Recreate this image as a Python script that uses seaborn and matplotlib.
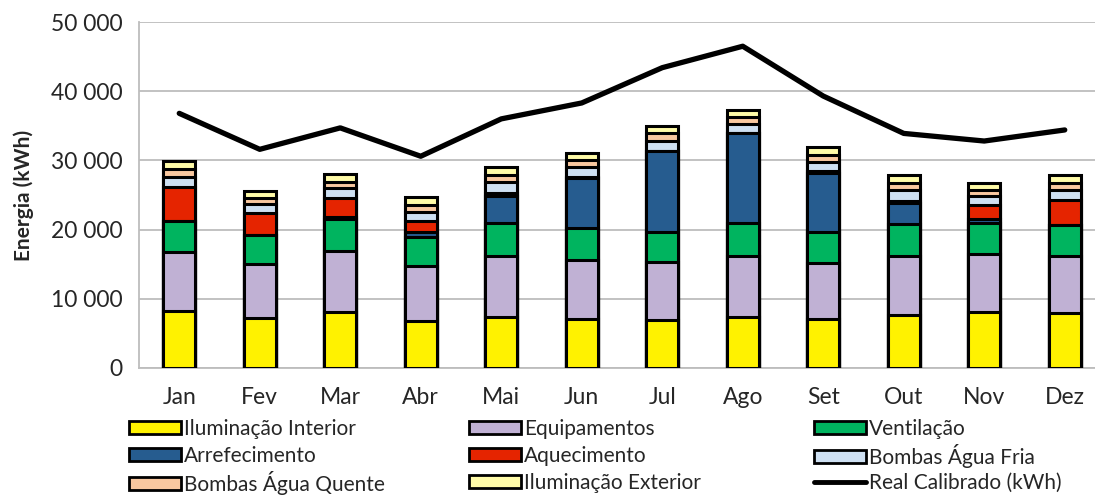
import numpy as np
import pandas as pd
import matplotlib.pyplot as plt
import seaborn as sns
from matplotlib.patches import Patch
from matplotlib.lines import Line2D
from matplotlib.ticker import FuncFormatter, MultipleLocator

# Monthly energy use by end use (kWh)
months = ["Jan", "Fev", "Mar", "Abr", "Mai", "Jun", "Jul", "Ago", "Set", "Out", "Nov", "Dez"]
ilum_interior = [8200, 7250, 8100, 6800, 7400, 7150, 7000, 7400, 7050, 7700, 8100, 8000]
equipamentos = [8500, 7850, 8750, 7950, 8800, 8500, 8250, 8800, 8150, 8550, 8400, 8250]
ventilacao = [4600, 4100, 4700, 4200, 4750, 4600, 4350, 4700, 4400, 4500, 4450, 4400]
arrefecimento = [0, 0, 200, 700, 3900, 7200, 11750, 13000, 8650, 3050, 650, 0]
aquecimento = [4800, 3250, 2750, 1600, 500, 200, 0, 0, 200, 300, 1900, 3650]
bombas_fria = [1500, 1200, 1450, 1350, 1600, 1400, 1500, 1350, 1350, 1600, 1350, 1450]
bombas_quente = [1100, 900, 950, 1000, 1000, 950, 1050, 950, 1000, 1000, 900, 1000]
ilum_exterior = [1200, 1000, 1150, 1100, 1100, 1100, 1100, 1150, 1150, 1150, 1050, 1200]
real_calibrado = [36800, 31600, 34700, 30600, 36000, 38300, 43400, 46500, 39300, 33900, 32800, 34400]

series_names = ["Iluminação Interior", "Equipamentos", "Ventilação", "Arrefecimento",
                "Aquecimento", "Bombas Água Fria", "Bombas Água Quente", "Iluminação Exterior"]
series_values = [ilum_interior, equipamentos, ventilacao, arrefecimento,
                 aquecimento, bombas_fria, bombas_quente, ilum_exterior]
colors = ["#FFF200", "#C0B1D4", "#00B45F", "#265C8F", "#E52400", "#CEE0F2", "#F9C8A0", "#FFFBA8"]
line_name = "Real Calibrado (kWh)"

sns.set_style("white")
plt.rcParams["font.family"] = ["Lato", "DejaVu Sans"]

fig = plt.figure(figsize=(10.95, 4.95), dpi=100)
ax = fig.add_axes([139 / 1095, 127 / 495, 966 / 1095, 346 / 495])

# stacked bars: draw cumulative totals from the top down
df = pd.DataFrame(dict(zip(series_names, series_values)), index=months)
cum = df.cumsum(axis=1)
for name, color in reversed(list(zip(series_names, colors))):
    sns.barplot(x=months, y=cum[name].values, order=months, color=color, saturation=1,
                width=0.4, edgecolor="black", linewidth=2.2, ax=ax, zorder=3)

sns.lineplot(x=np.arange(len(months)), y=real_calibrado, color="black",
             linewidth=3.8, ax=ax, zorder=4)

ax.set_xlim(-0.5, len(months) - 0.5)
ax.set_ylim(0, 50000)
ax.yaxis.set_major_locator(MultipleLocator(10000))
ax.yaxis.set_major_formatter(FuncFormatter(lambda v, p: f"{int(v):,}".replace(",", " ")))
ax.set_xticks(range(len(months)))
ax.set_xticklabels(months)
ax.set_xticks(np.arange(0.5, len(months) - 1, 1.0), minor=True)
ax.grid(axis="y", color="#BDBDBD", linewidth=1.3, zorder=0)
ax.set_axisbelow(True)
for s in ["top", "right"]:
    ax.spines[s].set_visible(False)
for s in ["left", "bottom"]:
    ax.spines[s].set_color("#BDBDBD")
    ax.spines[s].set_linewidth(1.3)
ax.tick_params(axis="y", which="major", direction="out", length=8, width=1.3,
               color="#BDBDBD", labelsize=16.5, pad=4)
ax.tick_params(axis="x", which="major", length=0, labelsize=16.5, pad=14)
ax.tick_params(axis="x", which="minor", direction="out", length=8, width=1.3, color="#BDBDBD")
ax.set_xlabel("")
ax.set_ylabel("Energia (kWh)", fontsize=15, fontweight="bold", labelpad=12)

# legend: 3 columns x 3 rows, one entry per small legend so the rows line up
handles = [Patch(facecolor=c, edgecolor="black", linewidth=2) for c in colors]
handles.append(Line2D([0], [0], color="black", linewidth=3.5))
labels = series_names + [line_name]
col_x = [129, 469, 814]
row_y = [429, 456, 483]
for k, (h, lab) in enumerate(zip(handles, labels)):
    r, c = divmod(k, 3)
    fig.legend([h], [lab], loc="center left",
               bbox_to_anchor=(col_x[c] / 1095, 1 - row_y[r] / 495),
               frameon=False, fontsize=15, borderpad=0, borderaxespad=0,
               handlelength=2.5, handleheight=0.6, handletextpad=0.15)

fig.savefig("out.png", dpi=100)
